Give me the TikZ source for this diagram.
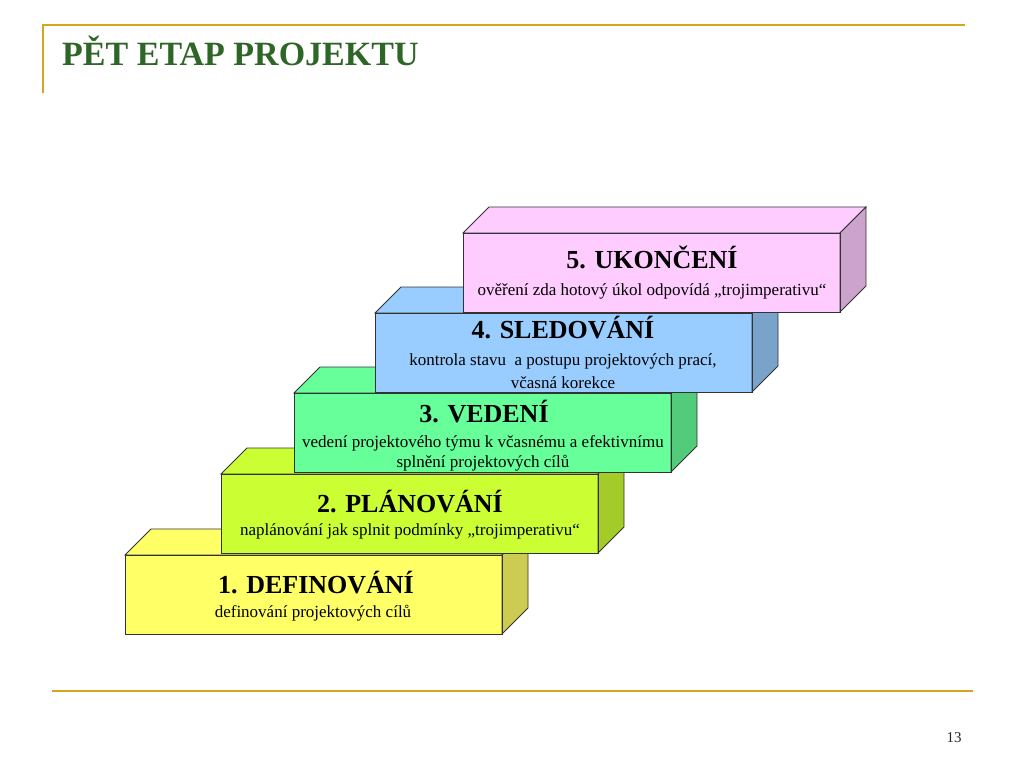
\documentclass[tikz,border=0pt]{standalone}
\usepackage{fontspec}
\setmainfont{Liberation Serif}

\definecolor{titlegreen}{RGB}{46,102,40}
\definecolor{linegold}{RGB}{214,164,34}
\definecolor{etapyellow}{RGB}{255,255,102}
\definecolor{etaplime}{RGB}{204,255,51}
\definecolor{etapgreen}{RGB}{102,255,153}
\definecolor{etapblue}{RGB}{153,204,255}
\definecolor{etappink}{RGB}{255,204,255}

% block: #1,#2 = upper left corner of the front face, #3 = colour
\newcommand{\etapblock}[3]{%
    \fill [#3] (#1,#2) rectangle ++(377,79);
    \draw [blockline,fill=#3] (#1,#2) -- ++(26,-26) -- ++(377,0) -- ++(-26,26) -- cycle;
    \draw [blockline,fill=#3!80!black] (#1+377,#2) -- ++(26,-26) -- ++(0,79) -- ++(-26,26) -- cycle;
    \draw [blockline] (#1,#2) rectangle ++(377,79);
}

\tikzset{
    blockline/.style={draw=black!80,line width=.8pt},
    etaphead/.style={font=\fontsize{26}{28}\selectfont\bfseries,anchor=base,inner sep=0pt},
    etapsub/.style={font=\fontsize{17}{20}\selectfont,anchor=base,inner sep=0pt,align=center},
}

\begin{document}
\begin{tikzpicture}[x=1pt,y=-1pt]
    \useasboundingbox (0,0) rectangle (1024,768);

    \draw [linegold,line width=2pt] (43,93) -- (43,25) -- (965,25);
    \draw [linegold,line width=2pt] (52,691) -- (973,691);
    \node [anchor=base west,inner sep=0pt,text=titlegreen,font=\fontsize{34}{36}\selectfont\bfseries] (title) at (62,66) {PĚT ETAP PROJEKTU};
    \node [anchor=base,inner sep=0pt,text=black!85,font=\fontsize{15}{17}\selectfont] (page) at (954,742) {13};

    \etapblock{125}{555}{etapyellow}
    \etapblock{221}{474}{etaplime}
    \etapblock{294}{393}{etapgreen}
    \etapblock{375}{313}{etapblue}
    \etapblock{463}{233}{etappink}

    \node [etaphead] (head1) at (316,593) {1. DEFINOVÁNÍ};
    \node [etapsub] (sub1) at (313,617) {definování projektových cílů};

    \node [etaphead] (head2) at (410,512) {2. PLÁNOVÁNÍ};
    \node [etapsub] (sub2) at (410,535) {naplánování jak splnit podmínky „trojimperativu“};

    \node [etaphead] (head3) at (484,422) {3. VEDENÍ};
    \node [etapsub] (sub3) at (483,447) {vedení projektového týmu k včasnému a efektivnímu};
    \node [etapsub] (sub3b) at (483,467) {splnění projektových cílů};

    \node [etaphead] (head4) at (563,338) {4. SLEDOVÁNÍ};
    \node [etapsub] (sub4) at (563,365) {kontrola stavu \ a postupu projektových prací,};
    \node [etapsub] (sub4b) at (563,388) {včasná korekce};

    \node [etaphead] (head5) at (652,268) {5. UKONČENÍ};
    \node [etapsub] (sub5) at (652,295) {ověření zda hotový úkol odpovídá „trojimperativu“};

\end{tikzpicture}
\end{document}
